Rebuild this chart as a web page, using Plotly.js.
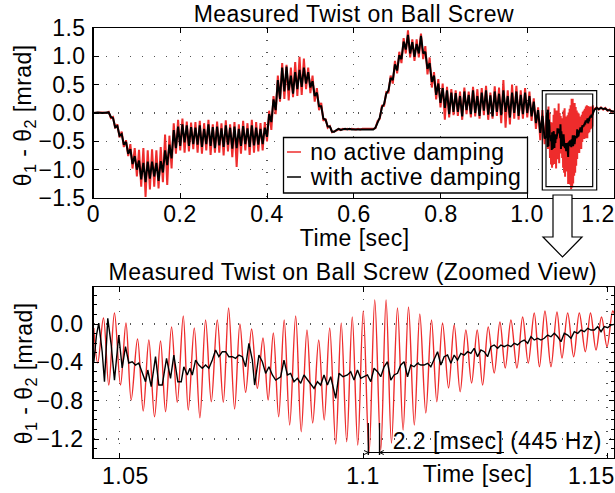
<!DOCTYPE html>
<html>
<head>
<meta charset="utf-8">
<script src="https://cdn.plot.ly/plotly-3.0.1.min.js"></script>
<style>html,body{margin:0;padding:0;background:#fff;}#chart{width:615px;height:493px;}#chart text{letter-spacing:0.45px;}</style>
</head>
<body>
<div id="chart"></div>
<script>
// ---------- Data ----------
// Top panel, full record: sample times [sec]
const topT = [0,0.01,0.02,0.03,
0.035,0.04,0.045,0.05,0.055,0.06,0.065,0.07,0.075,0.08,
0.085,0.09,0.095,0.1,0.105,0.11,0.115,0.12,0.125,0.13,
0.135,0.14,0.145,0.15,0.155,0.16,0.165,0.17,0.175,0.18,
0.185,0.19,0.195,0.2,0.205,0.21,0.215,0.22,0.225,0.23,
0.235,0.24,0.245,0.25,0.255,0.26,0.265,0.27,0.275,0.28,
0.285,0.29,0.295,0.3,0.305,0.31,0.315,0.32,0.325,0.33,
0.335,0.34,0.345,0.35,0.355,0.36,0.365,0.37,0.375,0.38,
0.385,0.39,0.395,0.4,0.405,0.41,0.415,0.42,0.425,0.43,
0.435,0.44,0.445,0.45,0.455,0.46,0.465,0.47,0.475,0.48,
0.485,0.49,0.495,0.5,0.505,0.51,0.515,0.52,0.525,0.53,
0.535,0.54,0.545,0.55,0.555,0.56,0.565,0.57,0.575,0.58,
0.585,0.59,0.595,0.6,0.605,0.61,0.615,0.62,0.625,0.63,
0.635,0.64,0.645,0.65,0.655,0.66,0.665,0.67,0.675,0.68,
0.685,0.69,0.695,0.7,0.705,0.71,0.715,0.72,0.725,0.73,
0.735,0.74,0.745,0.75,0.755,0.76,0.765,0.77,0.775,0.78,
0.785,0.79,0.795,0.8,0.805,0.81,0.815,0.82,0.825,0.83,
0.835,0.84,0.845,0.85,0.855,0.86,0.865,0.87,0.875,0.88,
0.885,0.89,0.895,0.9,0.905,0.91,0.915,0.92,0.925,0.93,
0.935,0.94,0.945,0.95,0.955,0.96,0.965,0.97,0.975,0.98,
0.985,0.99,0.995,1.0,1.005,1.01,1.015,1.02,1.025,1.03,
1.035,1.04];

// no active damping [mrad]
const redTop = [0,0.01,0.01,0,
0.02,-0.09,-0.07,-0.27,-0.20,-0.43,-0.33,-0.60,-0.48,-0.76,
-0.55,-0.98,-0.62,-1.12,-0.65,-1.30,-0.62,-1.48,-0.66,-1.35,
-0.64,-1.30,-0.66,-1.33,-0.60,-1.22,-0.38,-1.27,-0.40,-0.98,
-0.18,-0.72,-0.12,-0.66,-0.10,-0.70,-0.15,-0.68,-0.17,-0.64,
-0.16,-0.70,-0.14,-0.72,-0.18,-0.66,-0.12,-0.74,-0.20,-0.70,
-0.15,-0.70,-0.18,-0.75,-0.13,-0.68,-0.20,-0.78,-0.16,-0.95,
-0.20,-0.72,-0.14,-0.66,-0.18,-0.74,-0.12,-0.70,-0.16,-0.68,
-0.18,-0.66,-0.16,-0.50,0.04,-0.30,0.30,-0.02,0.66,0.20,
0.88,0.25,0.85,0.22,0.80,0.28,0.90,0.30,0.99,0.32,
0.96,0.42,0.80,0.35,0.66,0.20,0.44,0.05,0.18,-0.14,
-0.10,-0.26,-0.23,-0.34,-0.33,-0.31,-0.28,-0.30,-0.28,-0.29,
-0.28,-0.29,-0.28,-0.29,-0.29,-0.28,-0.29,-0.28,-0.28,-0.29,
-0.28,-0.29,-0.28,-0.27,-0.14,-0.10,0.13,0.13,0.37,0.36,
0.66,0.52,0.92,0.70,1.08,0.88,1.32,1.05,1.46,0.98,
1.30,0.92,1.30,0.98,1.40,0.95,1.18,0.68,0.98,0.45,
0.72,0.24,0.60,0.10,0.52,-0.12,0.46,-0.08,0.42,-0.04,
0.40,-0.05,0.38,-0.12,0.45,-0.02,0.38,-0.08,0.46,-0.06,
0.42,-0.10,0.44,-0.04,0.48,-0.12,0.36,-0.10,0.47,-0.05,
0.45,-0.18,0.58,-0.26,0.40,-0.20,0.50,-0.10,0.48,-0.12,
0.40,-0.10,0.44,-0.08,0.38,-0.14,0.26,-0.28,0.10,-0.48,
0.05,-0.55];

// with active damping [mrad]
const blackTop = [0,0.01,0,0.01,
0.01,-0.07,-0.09,-0.25,-0.23,-0.40,-0.37,-0.56,-0.51,-0.72,
-0.64,-0.90,-0.76,-1.00,-0.84,-1.17,-0.88,-1.22,-0.86,-1.16,
-0.86,-1.12,-0.88,-1.20,-0.85,-1.05,-0.66,-0.92,-0.56,-0.80,
-0.30,-0.62,-0.24,-0.58,-0.20,-0.52,-0.22,-0.58,-0.25,-0.55,
-0.26,-0.56,-0.22,-0.60,-0.28,-0.55,-0.20,-0.58,-0.25,-0.62,
-0.24,-0.57,-0.27,-0.60,-0.22,-0.56,-0.26,-0.63,-0.24,-0.62,
-0.28,-0.58,-0.23,-0.55,-0.27,-0.60,-0.22,-0.57,-0.26,-0.56,
-0.28,-0.55,-0.26,-0.42,-0.02,-0.16,0.24,0.05,0.58,0.25,
0.80,0.38,0.82,0.40,0.66,0.34,0.72,0.42,0.76,0.46,
0.80,0.52,0.72,0.45,0.56,0.30,0.36,0.12,0.12,-0.10,
-0.12,-0.24,-0.24,-0.33,-0.33,-0.30,-0.28,-0.30,-0.29,-0.28,
-0.29,-0.28,-0.29,-0.29,-0.28,-0.29,-0.28,-0.29,-0.29,-0.28,
-0.29,-0.28,-0.29,-0.26,-0.16,-0.08,0.10,0.16,0.34,0.40,
0.62,0.58,0.86,0.75,1.02,0.95,1.26,1.12,1.38,1.05,
1.25,0.99,1.22,1.05,1.36,1.05,1.08,0.78,0.88,0.55,
0.66,0.32,0.52,0.18,0.44,0.09,0.40,-0.02,0.36,0.02,
0.35,0.02,0.30,-0.06,0.38,0.05,0.32,-0.02,0.40,0.00,
0.30,-0.05,0.36,0.04,0.40,-0.03,0.31,-0.06,0.38,0.02,
0.34,-0.04,0.40,0.02,0.30,-0.08,0.36,0.00,0.38,-0.05,
0.32,-0.02,0.36,0.00,0.30,-0.06,0.20,-0.18,0.05,-0.35,
-0.05,-0.45];

// tail after the zoomed window
const postT = [1.155,1.16,1.165,1.17,1.175,1.18,1.185,1.19,1.195,1.2];
const redPost = [0.07,0.10,0.06,0.10,0.06,0.09,0.04,0.06,0.02,0.03];
const blackPost = [0.06,0.09,0.07,0.09,0.07,0.08,0.05,0.05,0.03,0.02];

// Zoomed window: no active damping (turning points of the 445 Hz oscillation)
const zoomRedT = [1.04472,1.04554,1.04671,1.04780,1.04897,1.05021,1.05133,1.05240,1.05370,1.05487,
1.05602,1.05719,1.05842,1.05945,1.06068,1.06185,1.06308,1.06411,1.06534,1.06649,
1.06766,1.06883,1.07006,1.07129,1.07238,1.07361,1.07470,1.07587,1.07710,1.07828,
1.07943,1.08049,1.08156,1.08265,1.08378,1.08491,1.08614,1.08727,1.08846,1.08963,
1.09086,1.09199,1.09312,1.09435,1.09548,1.09661,1.09774,1.09887,1.10000,1.10119,
1.10236,1.10359,1.10468,1.10579,1.10702,1.10817,1.10928,1.11047,1.11160,1.11283,
1.11400,1.11509,1.11626,1.11750,1.11865,1.11988,1.12105,1.12222,1.12337,1.12448,
1.12563,1.12686,1.12803,1.12912,1.13029,1.13152,1.13269,1.13384,1.13507,1.13614,
1.13727,1.13850,1.13973,1.14076,1.14193,1.14316,1.14431,1.14555,1.14661,1.14774,
1.14887,1.15000,1.15117,1.15164];
const zoomRedV = [-0.042,-0.407,0.063,-0.637,0.115,-0.637,0.010,-0.793,-0.157,-0.908,
-0.167,-0.968,-0.177,-0.915,-0.031,-0.817,0.084,-0.898,-0.042,-0.978,
0.042,-0.811,0.042,-0.817,0.167,-0.887,0.000,-0.713,-0.052,-0.671,
-0.146,-0.793,-0.094,-0.968,0.042,-1.054,0.084,-1.124,-0.063,-1.033,
-0.167,-1.002,-0.042,-1.253,0.010,-1.229,0.073,-1.263,0.136,-1.347,
0.251,-1.315,0.251,-1.242,0.167,-1.106,0.177,-1.054,0.104,-0.929,
0.042,-0.811,0.010,-0.668,-0.010,-0.707,-0.063,-0.616,-0.063,-0.637,
-0.031,-0.511,0.021,-0.459,0.042,-0.459,0.073,-0.407,0.115,-0.446,
0.136,-0.446,0.125,-0.355,0.115,-0.341,0.115,-0.289,0.115,-0.271,
0.073,-0.237,0.136,0.084];

// Zoomed window: with active damping
const zoomBlackT = [1.04472,1.04528,1.04575,1.04645,1.04692,1.04760,1.04830,1.04897,1.04986,1.05055,
1.05123,1.05191,1.05261,1.05329,1.05396,1.05466,1.05534,1.05581,1.05651,1.05739,
1.05807,1.05877,1.05965,1.06047,1.06115,1.06197,1.06267,1.06320,1.06390,1.06444,
1.06493,1.06561,1.06628,1.06698,1.06766,1.06834,1.06904,1.06971,1.07039,1.07109,
1.07177,1.07244,1.07314,1.07382,1.07450,1.07519,1.07587,1.07655,1.07725,1.07772,
1.07860,1.07930,1.07998,1.08066,1.08136,1.08203,1.08306,1.08374,1.08444,1.08511,
1.08579,1.08649,1.08717,1.08784,1.08834,1.08902,1.08990,1.09060,1.09127,1.09195,
1.09265,1.09333,1.09435,1.09503,1.09585,1.09676,1.09743,1.09811,1.09881,1.09949,
1.10016,1.10086,1.10154,1.10222,1.10292,1.10359,1.10427,1.10497,1.10565,1.10632,
1.10702,1.10770,1.10838,1.10908,1.10975,1.11043,1.11113,1.11181,1.11248,1.11318,
1.11386,1.11454,1.11524,1.11591,1.11659,1.11729,1.11797,1.11865,1.11934,1.12002,
1.12070,1.12140,1.12207,1.12275,1.12345,1.12413,1.12481,1.12550,1.12618,1.12686,
1.12756,1.12823,1.12891,1.12961,1.13029,1.13097,1.13166,1.13234,1.13302,1.13372,
1.13440,1.13507,1.13577,1.13645,1.13713,1.13782,1.13850,1.13918,1.13988,1.14056,
1.14123,1.14193,1.14261,1.14329,1.14399,1.14466,1.14534,1.14604,1.14672,1.14739,
1.14809,1.14877,1.14945,1.15014,1.15082,1.15150];
const zoomBlackV = [-0.407,-0.115,0.010,-0.289,-0.602,0.059,-0.219,-0.585,-0.115,-0.459,
-0.237,-0.407,-0.394,-0.428,-0.407,-0.498,-0.602,-0.480,-0.654,-0.341,
-0.637,-0.637,-0.358,-0.567,-0.324,-0.602,-0.602,-0.446,-0.532,-0.462,
-0.532,-0.376,-0.428,-0.462,-0.428,-0.462,-0.376,-0.271,-0.341,-0.289,
-0.289,-0.341,-0.341,-0.358,-0.324,-0.341,-0.446,-0.201,-0.376,-0.637,
-0.324,-0.394,-0.515,-0.446,-0.532,-0.585,-0.550,-0.376,-0.532,-0.515,
-0.602,-0.567,-0.619,-0.532,-0.567,-0.619,-0.671,-0.602,-0.637,-0.532,
-0.637,-0.550,-0.776,-0.515,-0.550,-0.532,-0.498,-0.585,-0.480,-0.567,
-0.550,-0.532,-0.602,-0.462,-0.498,-0.550,-0.446,-0.394,-0.585,-0.532,
-0.515,-0.428,-0.394,-0.550,-0.428,-0.446,-0.410,-0.428,-0.428,-0.410,
-0.446,-0.376,-0.289,-0.428,-0.341,-0.324,-0.410,-0.324,-0.376,-0.306,
-0.324,-0.289,-0.306,-0.254,-0.341,-0.271,-0.289,-0.341,-0.237,-0.219,
-0.254,-0.219,-0.237,-0.219,-0.237,-0.201,-0.219,-0.185,-0.167,-0.201,
-0.133,-0.167,-0.149,-0.167,-0.149,-0.115,-0.133,-0.097,-0.133,-0.185,
-0.097,-0.115,-0.149,-0.080,-0.097,-0.063,-0.080,-0.045,-0.063,-0.063,
-0.028,-0.080,-0.028,-0.039,-0.010,-0.003];

// Tick values
const topXTicks = [0,0.2,0.4,0.6,0.8,1.0,1.2];
const topYTicks = [-1.5,-1.0,-0.5,0,0.5,1.0,1.5];
const botXTicks = [1.05,1.1,1.15];
const botYTicks = [-1.2,-0.8,-0.4,0.0];
const topXLabels = ['0','0.2','0.4','0.6','0.8','1.0','1.2'];
const botXLabels = ['1.05','1.1','1.15'];

// ---------- Figure ----------
const RED = '#ee2c2c';
const W = 615, H = 493;
const FS = 23;
const px = x => x / W;
const py = y => 1 - y / H;

const traces = [
  {x: topT.concat(zoomRedT, postT), y: redTop.concat(zoomRedV, redPost),
   xaxis:'x', yaxis:'y', mode:'lines', line:{color:RED, width:2.0}, hoverinfo:'skip'},
  {x: topT.concat(zoomBlackT, postT), y: blackTop.concat(zoomBlackV, blackPost),
   xaxis:'x', yaxis:'y', mode:'lines', line:{color:'#000', width:2.0}, hoverinfo:'skip'},
  {x: zoomRedT, y: zoomRedV, xaxis:'x2', yaxis:'y2', mode:'lines',
   line:{color:RED, width:1.4, shape:'spline', smoothing:1}, hoverinfo:'skip'},
  {x: zoomBlackT, y: zoomBlackV, xaxis:'x2', yaxis:'y2', mode:'lines',
   line:{color:'#000', width:1.4}, hoverinfo:'skip'}
];

const axisCommon = {
  showline:true, mirror:'ticks', linecolor:'#000', linewidth:1.3,
  ticks:'inside', ticklen:5, tickwidth:1, tickcolor:'#000',
  showgrid:true, gridcolor:'#555', gridwidth:1.3, griddash:'1.3px,10.7px',
  zeroline:false, automargin:false, fixedrange:true
};

const xDom = [px(93.5), px(614)];

const layout = {
  width: W, height: H,
  margin: {l:0, r:0, t:0, b:0},
  paper_bgcolor:'#fff', plot_bgcolor:'#fff',
  showlegend:false,
  font:{family:'"Liberation Sans", Arial, sans-serif', size:FS, color:'#000'},
  xaxis: Object.assign({}, axisCommon, {domain:xDom, range:[0,1.2], anchor:'y',
    tickvals:topXTicks, showticklabels:false}),
  yaxis: Object.assign({}, axisCommon, {domain:[py(198), py(28)], range:[-1.5,1.5], anchor:'x',
    tickvals:topYTicks, tickformat:'.1f', ticklabelstandoff:2}),
  xaxis2: Object.assign({}, axisCommon, {domain:xDom, range:[1.04467,1.15143], anchor:'y2',
    tickvals:botXTicks, showticklabels:false}),
  yaxis2: Object.assign({}, axisCommon, {domain:[py(458), py(287)], range:[-1.398,0.386], anchor:'x2',
    tickvals:botYTicks, tickformat:'.1f', ticklabelstandoff:4,
    minor:{dtick:0.1, tick0:0, ticks:'inside', ticklen:3, tickcolor:'#000', showgrid:false}}),
  annotations: [],
  shapes: []
};

const A = layout.annotations, S = layout.shapes;
const txt = (text, x, y, opts) => A.push(Object.assign({text, x, y, xref:'paper', yref:'paper',
  showarrow:false, xanchor:'center', yanchor:'middle', font:{size:FS}}, opts||{}));

// Titles
txt('Measured Twist on Ball Screw', px(354), py(14));
txt('Measured Twist on Ball Screw (Zoomed View)', px(353), py(272));
txt('Time [sec]', px(354), py(238));
txt('Time [sec]', px(477), py(474));
txt('θ<sub>1</sub> - θ<sub>2</sub> [mrad]', px(25), py(115), {textangle:-90});
txt('θ<sub>1</sub> - θ<sub>2</sub> [mrad]', px(25), py(373), {textangle:-90});

// x tick labels
const topLabPos = [0,0.2,0.4,0.6,0.8,1.0,1.163];
topXLabels.forEach((t,i) => A.push({text:t, x:topLabPos[i], xref:'x', y:py(214), yref:'paper',
  showarrow:false, xanchor:'center', yanchor:'middle', font:{size:FS}}));
const botLabPos = [1.0512,1.1,1.1469];
botXLabels.forEach((t,i) => A.push({text:t, x:botLabPos[i], xref:'x2', y:py(476), yref:'paper',
  showarrow:false, xanchor:'center', yanchor:'middle', font:{size:FS}}));

// Legend (drawn box)
S.push({type:'rect', xref:'paper', yref:'paper', x0:px(283.5), x1:px(527.5), y0:py(193), y1:py(137.5),
  line:{color:'#000', width:1.3}, fillcolor:'#fff', layer:'above'});
S.push({type:'line', xref:'paper', yref:'paper', x0:px(287), x1:px(301), y0:py(152), y1:py(152),
  line:{color:RED, width:1.5}, layer:'above'});
S.push({type:'line', xref:'paper', yref:'paper', x0:px(287), x1:px(301), y0:py(177), y1:py(177),
  line:{color:'#000', width:1.5}, layer:'above'});
txt('no active damping', px(312), py(152), {xanchor:'left'});
txt('with active damping', px(312), py(177), {xanchor:'left'});

// Zoom window marker (double box)
S.push({type:'rect', xref:'paper', yref:'paper', x0:px(542.3), x1:px(596.7), y0:py(190), y1:py(90.7),
  line:{color:'#000', width:1.2}, layer:'above'});
S.push({type:'rect', xref:'paper', yref:'paper', x0:px(546), x1:px(592.7), y0:py(186.7), y1:py(94),
  line:{color:'#000', width:1.2}, layer:'above'});

// Block arrow down to the zoomed view
S.push({type:'path', xref:'paper', yref:'paper',
  path:`M ${px(553)} ${py(195)} L ${px(553)} ${py(237)} L ${px(543)} ${py(237)} L ${px(562.5)} ${py(257)} L ${px(582)} ${py(237)} L ${px(572)} ${py(237)} L ${px(572)} ${py(195)} Z`,
  line:{color:'#000', width:1.2}, fillcolor:'#fff', layer:'above'});

// Period marker in the zoomed view
S.push({type:'line', xref:'paper', yref:'paper', x0:px(368.3), x1:px(368.3), y0:py(423), y1:py(455),
  line:{color:'#000', width:1.3}, layer:'above'});
S.push({type:'line', xref:'paper', yref:'paper', x0:px(379.5), x1:px(379.5), y0:py(423), y1:py(455),
  line:{color:'#000', width:1.3}, layer:'above'});
S.push({type:'line', xref:'paper', yref:'paper', x0:px(368.3), x1:px(504), y0:py(452.5), y1:py(452.5),
  line:{color:'#000', width:1.2}, layer:'above'});
S.push({type:'path', xref:'paper', yref:'paper',
  path:`M ${px(364)} ${py(450.5)} L ${px(368.3)} ${py(452.5)} L ${px(364)} ${py(454.5)} M ${px(383.8)} ${py(450.5)} L ${px(379.5)} ${py(452.5)} L ${px(383.8)} ${py(454.5)}`,
  line:{color:'#000', width:1}, layer:'above'});
txt('2.2 [msec] (445 Hz)', px(497), py(441));

Plotly.newPlot('chart', traces, layout, {staticPlot:true, displayModeBar:false});
</script>
</body>
</html>
